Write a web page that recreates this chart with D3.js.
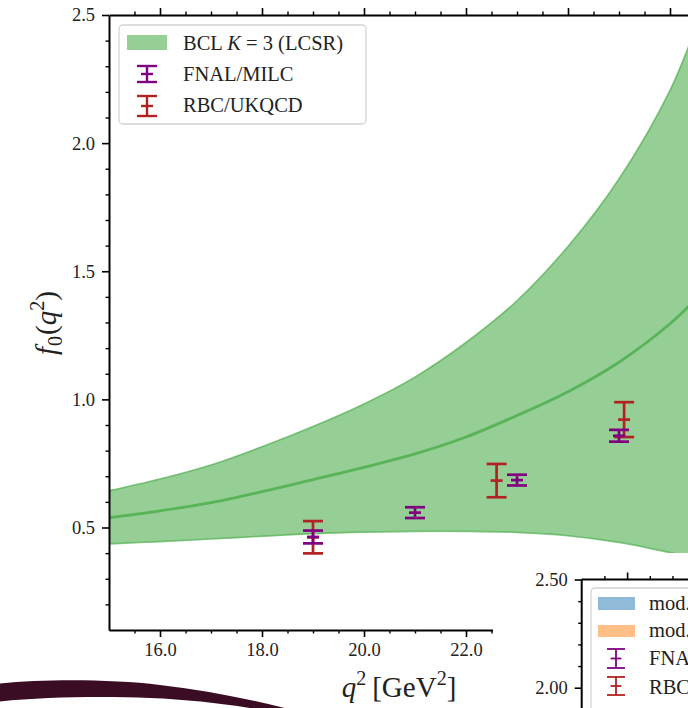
<!DOCTYPE html>
<html>
<head>
<meta charset="utf-8">
<script src="https://cdn.jsdelivr.net/npm/d3@7"></script>
<style>
  html, body { margin: 0; padding: 0; background: #fff; }
  svg { display: block; }
  text { font-family: "Liberation Serif", "DejaVu Serif", serif; fill: #222; }
</style>
</head>
<body>
<svg id="chart" width="688" height="708"></svg>
<script>
// BCL K=3 (LCSR) band for the scalar form factor f0(q^2)
const q2Grid     = [15, 16, 17, 18, 19, 20, 21, 22, 23, 24, 25, 26, 26.5];
const bclCentral = [0.538, 0.565, 0.597, 0.640, 0.687, 0.735, 0.787, 0.853, 0.937, 1.030, 1.145, 1.295, 1.390];
const bclUpper   = [0.643, 0.689, 0.744, 0.815, 0.894, 0.982, 1.087, 1.222, 1.385, 1.597, 1.860, 2.206, 2.450];
const bclLower   = [0.436, 0.445, 0.455, 0.466, 0.476, 0.482, 0.485, 0.485, 0.481, 0.468, 0.442, 0.402, 0.378];

// Lattice QCD points
const fnalQ2  = [19.0, 21.0, 23.0, 25.0];
const fnalF0  = [0.463, 0.558, 0.685, 0.858];
const fnalErr = [0.025, 0.021, 0.021, 0.023];

const rbcQ2  = [19.0, 22.6, 25.1];
const rbcF0  = [0.462, 0.683, 0.921];
const rbcErr = [0.063, 0.065, 0.068];

// Axis ticks
const xMajorTicks = [16, 18, 20, 22, 24, 26];
const yMajorTicks = [0.5, 1.0, 1.5, 2.0, 2.5];

// Legend labels
const legendLabels = ["FNAL/MILC", "RBC/UKQCD"];
const insetLegendLabels = ["mod.", "mod.", "FNAL/MILC", "RBC/UKQCD"];
const insetYTicks = [2.0, 2.5];

const colors = {
  band: "#95cf95",
  bandLine: "#4fae4f",
  fnal: "#800080",
  rbc: "#b22222",
  blue: "#8fbbd9",
  orange: "#ffbf86"
};

const svg = d3.select("#chart");
const W = 688, H = 708;

const x = d3.scaleLinear().domain([15, 27]).range([109, 109 + 12 * 51]);
const y = d3.scaleLinear().domain([0.1, 2.5]).range([630, 15]);

const plotL = x(15), plotR = x(27), plotT = y(2.5), plotB = y(0.1);

svg.append("defs").append("clipPath").attr("id", "plotClip")
  .append("rect").attr("x", plotL).attr("y", plotT)
  .attr("width", plotR - plotL).attr("height", plotB - plotT);

const plot = svg.append("g").attr("clip-path", "url(#plotClip)");

const bandData = q2Grid.map((q, i) => ({ q, c: bclCentral[i], u: bclUpper[i], l: bclLower[i] }));
const curve = d3.curveCatmullRom.alpha(0.5);

plot.append("path").datum(bandData)
  .attr("d", d3.area().curve(curve).x(d => x(d.q)).y0(d => y(d.l)).y1(d => y(d.u)))
  .attr("fill", colors.band);

[["u", 1.6], ["l", 1.6], ["c", 2.8]].forEach(([k, w]) => {
  plot.append("path").datum(bandData)
    .attr("d", d3.line().curve(curve).x(d => x(d.q)).y(d => y(d[k])))
    .attr("fill", "none")
    .attr("stroke", colors.bandLine)
    .attr("stroke-opacity", k === "c" ? 0.85 : 0.7)
    .attr("stroke-width", w);
});

// Error bars with caps and a short horizontal marker at the central value
function errorBars(qs, vals, errs, color) {
  const g = plot.append("g").attr("stroke", color).attr("stroke-width", 2.7).attr("fill", "none");
  qs.forEach((q, i) => {
    const cx = x(q), yt = y(vals[i] + errs[i]), yb = y(vals[i] - errs[i]), yc = y(vals[i]);
    g.append("line").attr("x1", cx).attr("x2", cx).attr("y1", yt).attr("y2", yb);
    g.append("line").attr("x1", cx - 10).attr("x2", cx + 10).attr("y1", yt).attr("y2", yt);
    g.append("line").attr("x1", cx - 10).attr("x2", cx + 10).attr("y1", yb).attr("y2", yb);
    g.append("line").attr("x1", cx - 6).attr("x2", cx + 6).attr("y1", yc).attr("y2", yc);
  });
}
errorBars(rbcQ2, rbcF0, rbcErr, colors.rbc);
errorBars(fnalQ2, fnalF0, fnalErr, colors.fnal);

// Axes
const fmt1 = d3.format(".1f");
const xMinor = d3.range(15.5, 27.01, 0.5).filter(v => !xMajorTicks.includes(v));
const yMinor = d3.range(0.2, 2.501, 0.1).map(v => +v.toFixed(1)).filter(v => !yMajorTicks.includes(v));

function styleAxis(g) {
  g.attr("font-family", null);
  g.select(".domain").attr("stroke", "#000").attr("stroke-width", 2);
  g.selectAll(".tick line").attr("stroke", "#000").attr("stroke-width", 1.6);
  g.selectAll(".tick text").attr("font-size", 18.5).attr("fill", "#222");
}

const gx = svg.append("g").attr("transform", `translate(0,${plotB})`)
  .call(d3.axisBottom(x).tickValues(xMajorTicks).tickFormat(fmt1).tickSize(7).tickPadding(6).tickSizeOuter(0));
styleAxis(gx);
svg.append("g").attr("transform", `translate(0,${plotB})`)
  .call(d3.axisBottom(x).tickValues(xMinor).tickFormat("").tickSize(3.5).tickSizeOuter(0))
  .call(g => { g.select(".domain").remove(); g.selectAll("line").attr("stroke", "#000").attr("stroke-width", 1.4); });

const gt = svg.append("g").attr("transform", `translate(0,${plotT})`)
  .call(d3.axisTop(x).tickValues(xMajorTicks).tickFormat("").tickSize(7).tickSizeOuter(0));
styleAxis(gt);
svg.append("g").attr("transform", `translate(0,${plotT})`)
  .call(d3.axisTop(x).tickValues(xMinor).tickFormat("").tickSize(3.5).tickSizeOuter(0))
  .call(g => { g.select(".domain").remove(); g.selectAll("line").attr("stroke", "#000").attr("stroke-width", 1.4); });

const gy = svg.append("g").attr("transform", `translate(${plotL},0)`)
  .call(d3.axisLeft(y).tickValues(yMajorTicks).tickFormat(fmt1).tickSize(7).tickPadding(7).tickSizeOuter(0));
styleAxis(gy);
svg.append("g").attr("transform", `translate(${plotL},0)`)
  .call(d3.axisLeft(y).tickValues(yMinor).tickFormat("").tickSize(3.5).tickSizeOuter(0))
  .call(g => { g.select(".domain").remove(); g.selectAll("line").attr("stroke", "#000").attr("stroke-width", 1.4); });

// Axis titles
const yl = svg.append("text")
  .attr("transform", `translate(56,323) rotate(-90)`)
  .attr("text-anchor", "middle").attr("font-size", 29);
yl.append("tspan").attr("font-style", "italic").text("f");
yl.append("tspan").attr("font-size", 20).attr("dy", 6).attr("dx", 1).text("0");
yl.append("tspan").attr("dy", -6).attr("dx", 1).text("(");
yl.append("tspan").attr("font-style", "italic").text("q");
yl.append("tspan").attr("font-size", 20).attr("dy", -12).text("2");
yl.append("tspan").attr("dy", 12).text(")");

const xl = svg.append("text")
  .attr("x", 399).attr("y", 697).attr("text-anchor", "middle").attr("font-size", 29);
xl.append("tspan").attr("font-style", "italic").text("q");
xl.append("tspan").attr("font-size", 20).attr("dy", -12).text("2");
xl.append("tspan").attr("dy", 12).attr("dx", 6).text("[GeV");
xl.append("tspan").attr("font-size", 20).attr("dy", -12).text("2");
xl.append("tspan").attr("dy", 12).text("]");

// Legend
const leg = svg.append("g");
leg.append("rect").attr("x", 119).attr("y", 25).attr("width", 247).attr("height", 99).attr("rx", 4)
  .attr("fill", "#fff").attr("fill-opacity", 0.85).attr("stroke", "#d4d4d4").attr("stroke-width", 1.3);
leg.append("rect").attr("x", 127).attr("y", 35).attr("width", 40).attr("height", 15).attr("fill", colors.band);
const t0 = leg.append("text").attr("x", 183).attr("y", 50).attr("font-size", 20.5);
t0.append("tspan").text("BCL ");
t0.append("tspan").attr("font-style", "italic").text("K");
t0.append("tspan").text(" = 3 (LCSR)");

function legendErr(g, cx, yt, yb, color, hw, sw) {
  const gg = g.append("g").attr("stroke", color).attr("stroke-width", sw);
  gg.append("line").attr("x1", cx).attr("x2", cx).attr("y1", yt).attr("y2", yb);
  gg.append("line").attr("x1", cx - hw).attr("x2", cx + hw).attr("y1", yt).attr("y2", yt);
  gg.append("line").attr("x1", cx - hw).attr("x2", cx + hw).attr("y1", yb).attr("y2", yb);
  gg.append("line").attr("x1", cx - hw * 0.6).attr("x2", cx + hw * 0.6).attr("y1", (yt + yb) / 2).attr("y2", (yt + yb) / 2);
}
legendErr(leg, 147, 66, 82, colors.fnal, 10, 2.4);
legendErr(leg, 147, 96, 116, colors.rbc, 10, 2.4);
leg.append("text").attr("x", 183).attr("y", 81).attr("font-size", 20.5).text(legendLabels[0]);
leg.append("text").attr("x", 183).attr("y", 112).attr("font-size", 20.5).text(legendLabels[1]);

// Neighbouring panel in the lower right corner
const inset = svg.append("g");
inset.append("rect").attr("x", 493).attr("y", 553).attr("width", W - 493).attr("height", H - 553).attr("fill", "#fff");

const ix = d3.scaleLinear().domain([15, 17]).range([581.7, 581.7 + 2 * 45.4]);
const iy = d3.scaleLinear().domain([2.0, 2.5]).range([687.7, 579.5]);

const ixMinor = d3.range(15.5, 18.01, 0.5).filter(v => v !== 16);
inset.append("g").attr("transform", `translate(0,${iy(2.5)})`)
  .call(d3.axisTop(ix).tickValues([16]).tickFormat("").tickSize(7).tickSizeOuter(0))
  .call(g => { g.select(".domain").attr("d", `M${ix(15)},0H${W + 10}`).attr("stroke", "#000").attr("stroke-width", 2);
               g.selectAll("line").attr("stroke", "#000").attr("stroke-width", 1.6); });
inset.append("g").attr("transform", `translate(0,${iy(2.5)})`)
  .call(d3.axisTop(ix).tickValues(ixMinor).tickFormat("").tickSize(3.5).tickSizeOuter(0))
  .call(g => { g.select(".domain").remove(); g.selectAll("line").attr("stroke", "#000").attr("stroke-width", 1.4); });

const iyMinor = d3.range(1.9, 2.5, 0.1).map(v => +v.toFixed(1)).filter(v => !insetYTicks.includes(v));
inset.append("g").attr("transform", `translate(${ix(15)},0)`)
  .call(d3.axisLeft(iy).tickValues(insetYTicks).tickFormat(d3.format(".2f")).tickSize(7).tickPadding(7).tickSizeOuter(0))
  .call(g => { g.attr("font-family", null);
               g.select(".domain").attr("d", `M0,${iy(2.5)}V${H + 10}`).attr("stroke", "#000").attr("stroke-width", 2);
               g.selectAll("line").attr("stroke", "#000").attr("stroke-width", 1.6);
               g.selectAll("text").attr("font-size", 18.5).attr("fill", "#222"); });
inset.append("g").attr("transform", `translate(${ix(15)},0)`)
  .call(d3.axisLeft(iy).tickValues(iyMinor).tickFormat("").tickSize(3.5).tickSizeOuter(0))
  .call(g => { g.select(".domain").remove(); g.selectAll("line").attr("stroke", "#000").attr("stroke-width", 1.4); });

inset.append("rect").attr("x", 591).attr("y", 588).attr("width", 140).attr("height", 160).attr("rx", 4)
  .attr("fill", "#fff").attr("stroke", "#d4d4d4").attr("stroke-width", 1.3);
inset.append("rect").attr("x", 598).attr("y", 597).attr("width", 37).attr("height", 13).attr("fill", colors.blue);
inset.append("rect").attr("x", 598).attr("y", 625).attr("width", 37).attr("height", 12).attr("fill", colors.orange);
legendErr(inset, 616, 649, 668, colors.fnal, 9, 1.8);
legendErr(inset, 616, 677, 695, colors.rbc, 9, 1.8);
[610, 637, 665, 694].forEach((yy, i) => {
  inset.append("text").attr("x", 649).attr("y", yy).attr("font-size", 20.5).text(insetLegendLabels[i]);
});

// Decorative swoosh along the lower left edge
svg.append("path")
  .attr("d", "M-5,684 C40,679 110,679 160,685 C210,691 255,700 300,712 L292,716 C245,706 200,700 150,698 C100,696 40,697 -5,702 Z")
  .attr("fill", "#3b0d25");
</script>
</body>
</html>
